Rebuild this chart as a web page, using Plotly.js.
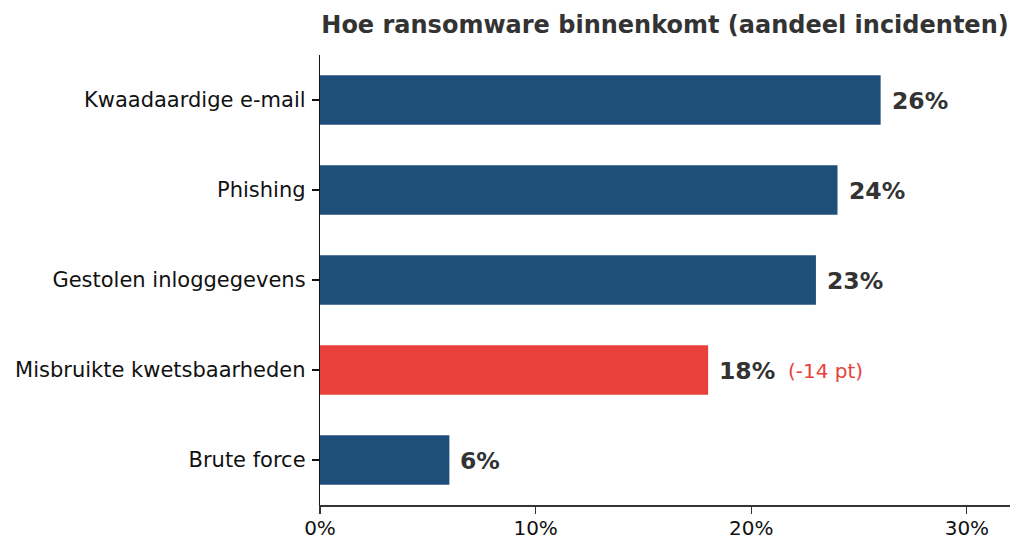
<!DOCTYPE html>
<html>
<head>
<meta charset="utf-8">
<script src="https://cdn.plot.ly/plotly-3.0.1.min.js"></script>
<style>
  html, body { margin: 0; padding: 0; background: #fff; }
  #chart { width: 1024px; height: 553px; }
</style>
</head>
<body>
<div id="chart"></div>
<script>
// bronwaarden
const categories = ['Kwaadaardige e-mail', 'Phishing', 'Gestolen inloggegevens', 'Misbruikte kwetsbaarheden', 'Brute force'];
const shares = [26, 24, 23, 18, 6];
const highlight = 'Misbruikte kwetsbaarheden';
const deltaLabel = '(-14 pt)';
const xTicks = [0, 10, 20, 30];

const blue = '#1f4e79';
const red = '#e8413c';
const font = 'DejaVu Sans, sans-serif';

const barColors = categories.map(c => c === highlight ? red : blue);

const trace = {
  type: 'bar',
  orientation: 'h',
  x: shares,
  y: categories,
  width: 0.55,
  marker: { color: barColors },
  hoverinfo: 'skip'
};

const annotations = [];
for (let i = 0; i < categories.length; i++) {
  annotations.push({
    x: shares[i], y: categories[i], xref: 'x', yref: 'y',
    text: '<b>' + shares[i] + '%</b>',
    showarrow: false, xanchor: 'left', yanchor: 'middle', xshift: 9, yshift: -1,
    font: { family: font, size: 23.5, color: '#333333' }
  });
  if (categories[i] === highlight) {
    annotations.push({
      x: shares[i], y: categories[i], xref: 'x', yref: 'y',
      text: deltaLabel,
      showarrow: false, xanchor: 'left', yanchor: 'middle', xshift: 78, yshift: -1,
      font: { family: font, size: 20, color: red }
    });
  }
}

const layout = {
  width: 1024,
  height: 553,
  margin: { l: 320, r: 14, t: 55, b: 48 },
  paper_bgcolor: '#ffffff',
  plot_bgcolor: '#ffffff',
  showlegend: false,
  font: { family: font, color: '#111111' },
  title: {
    text: '<b>Hoe ransomware binnenkomt (aandeel incidenten)</b>',
    font: { family: font, size: 24, color: '#333333' },
    x: 0.5, xref: 'paper', xanchor: 'center',
    y: 0.971, yref: 'container', yanchor: 'top'
  },
  xaxis: {
    range: [0, 32],
    tickvals: xTicks,
    ticktext: xTicks.map(v => v + '%'),
    showgrid: false,
    zeroline: false,
    showline: true,
    linecolor: '#333333',
    linewidth: 1.5,
    ticks: 'outside',
    ticklen: 7,
    tickwidth: 1.2,
    tickcolor: '#333333',
    ticklabelstandoff: -3,
    tickfont: { family: font, size: 20, color: '#111111' },
    fixedrange: true
  },
  yaxis: {
    type: 'category',
    categoryorder: 'array',
    categoryarray: categories,
    range: [4.5, -0.5],
    showgrid: false,
    zeroline: false,
    showline: true,
    linecolor: '#111111',
    linewidth: 1.2,
    ticks: 'outside',
    ticklen: 7,
    tickwidth: 1.2,
    tickcolor: '#111111',
    ticklabelstandoff: 2,
    tickfont: { family: font, size: 21, color: '#111111' },
    fixedrange: true
  },
  annotations: annotations
};

Plotly.newPlot('chart', [trace], layout, { displayModeBar: false, staticPlot: true });
</script>
</body>
</html>
